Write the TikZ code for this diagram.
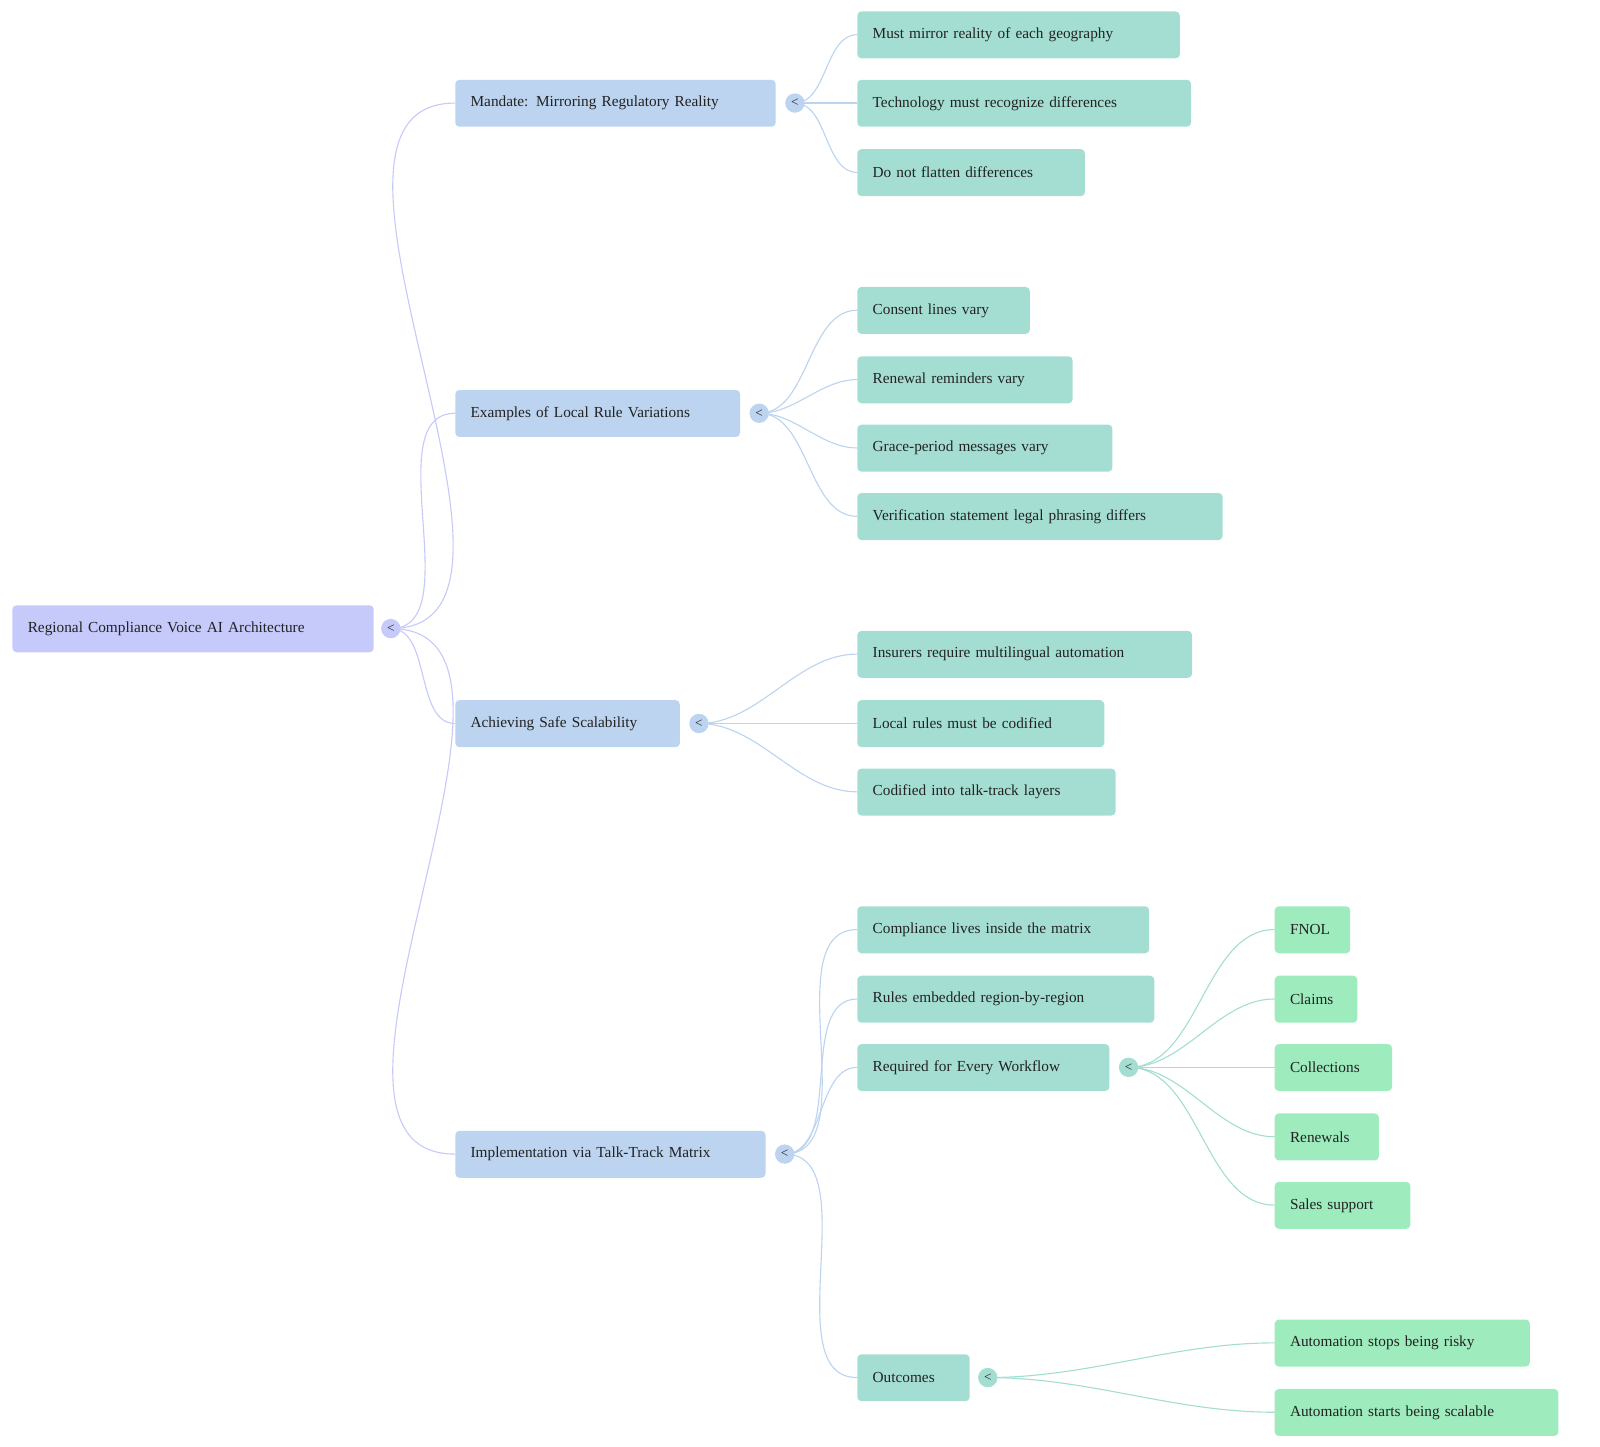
\documentclass[tikz,border=0pt]{standalone}
\usepackage{fontspec}
\setmainfont{Liberation Serif}
\definecolor{c0}{HTML}{C6CAFA}
\definecolor{c1}{HTML}{BCD4EF}
\definecolor{c2}{HTML}{A4DED2}
\definecolor{c3}{HTML}{9EECBE}
\definecolor{txt}{HTML}{222222}
\newcommand{\bx}[6]{\node[box,fill=#5,anchor=north west,minimum width=#4-#2 pt,text width=#4-#2-30 pt] (#1) at (#2,#3) {#6};}
\newcommand{\cir}[4]{\node[cir,fill=#4] (#1) at (#2,#3) {<};}
\begin{document}
\begin{tikzpicture}[x=1pt,y=-1pt,
 box/.style={rounded corners=4pt,draw=none,minimum height=46pt,inner xsep=15pt,font=\fontsize{15}{18}\selectfont,text=txt,align=left},
 cir/.style={circle,inner sep=0pt,minimum size=19pt,font=\fontsize{13}{13}\selectfont,text=txt},
 e/.style={line width=1.1pt,out=0,in=180,looseness=0.9}]
\useasboundingbox (0,0) rectangle (1568,1418);
% edges first
\coordinate (rc) at (383,616);
\foreach \y in {101,405,709,1131} \draw[e,c0] (rc) to (446,\y);
\foreach \y in {34,101,169} \draw[e,c1] (779,101) to (840,\y);
\foreach \y in {304,372,439,506} \draw[e,c1] (744,405) to (840,\y);
\foreach \y in {641,709,776} \draw[e,c1] (685,709) to (840,\y);
\foreach \y in {911,979,1046,1350} \draw[e,c1] (769,1131) to (840,\y);
\foreach \y in {911,979,1046,1114,1181} \draw[e,c2] (1106,1046) to (1249,\y);
\foreach \y in {1316,1384} \draw[e,c2] (968,1350) to (1249,\y);
% nodes
\bx{root}{12}{593}{366}{c0}{Regional Compliance Voice AI Architecture}
\cir{rootc}{383}{616}{c0}
\bx{m}{446}{78}{760}{c1}{Mandate: Mirroring Regulatory Reality}
\cir{mc}{779}{101}{c1}
\bx{m1}{840}{11}{1156}{c2}{Must mirror reality of each geography}
\bx{m2}{840}{78}{1167}{c2}{Technology must recognize differences}
\bx{m3}{840}{146}{1063}{c2}{Do not flatten differences}
\bx{ex}{446}{382}{725}{c1}{Examples of Local Rule Variations}
\cir{exc}{744}{405}{c1}
\bx{e1}{840}{281}{1009}{c2}{Consent lines vary}
\bx{e2}{840}{349}{1051}{c2}{Renewal reminders vary}
\bx{e3}{840}{416}{1090}{c2}{Grace-period messages vary}
\bx{e4}{840}{483}{1198}{c2}{Verification statement legal phrasing differs}
\bx{a}{446}{686}{666}{c1}{Achieving Safe Scalability}
\cir{ac}{685}{709}{c1}
\bx{a1}{840}{618}{1168}{c2}{Insurers require multilingual automation}
\bx{a2}{840}{686}{1082}{c2}{Local rules must be codified}
\bx{a3}{840}{753}{1093}{c2}{Codified into talk-track layers}
\bx{i}{446}{1108}{750}{c1}{Implementation via Talk-Track Matrix}
\cir{ic}{769}{1131}{c1}
\bx{i1}{840}{888}{1126}{c2}{Compliance lives inside the matrix}
\bx{i2}{840}{956}{1131}{c2}{Rules embedded region-by-region}
\bx{i3}{840}{1023}{1087}{c2}{Required for Every Workflow}
\cir{i3c}{1106}{1046}{c2}
\bx{i4}{840}{1327}{950}{c2}{Outcomes}
\cir{i4c}{968}{1350}{c2}
\bx{w1}{1249}{888}{1323}{c3}{FNOL}
\bx{w2}{1249}{956}{1330}{c3}{Claims}
\bx{w3}{1249}{1023}{1364}{c3}{Collections}
\bx{w4}{1249}{1091}{1351}{c3}{Renewals}
\bx{w5}{1249}{1158}{1382}{c3}{Sales support}
\bx{o1}{1249}{1293}{1499}{c3}{Automation stops being risky}
\bx{o2}{1249}{1361}{1527}{c3}{Automation starts being scalable}
\end{tikzpicture}
\end{document}
